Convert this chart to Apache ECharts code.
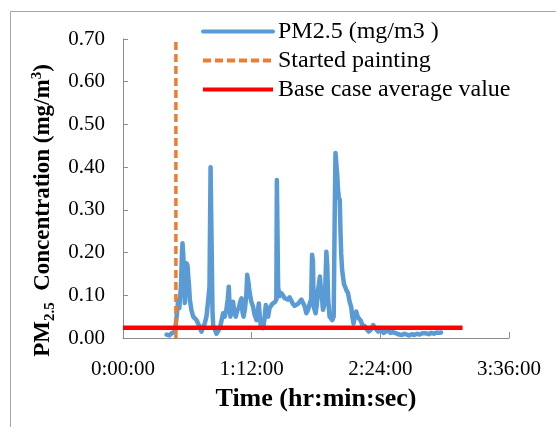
<!DOCTYPE html>
<html>
<head>
<meta charset="utf-8">
<script src="https://cdn.jsdelivr.net/npm/echarts@6/dist/echarts.min.js"></script>
<style>
html,body{margin:0;padding:0;background:#fff;}
#chart{width:556px;height:427px;}
</style>
</head>
<body>
<div id="chart"></div>
<script>
// Time in minutes since start
var pmTimes = [24.4, 26.0, 27.2, 29.1, 30.0, 30.9, 31.5, 32.4, 33.0, 33.3, 33.8, 34.1, 34.6, 35.1, 35.6, 36.1, 36.6, 37.0, 37.4, 37.8, 38.3, 39.3, 40.2, 41.1, 42.0, 43.0, 43.9, 44.8, 45.8, 46.7, 47.7, 48.4, 49.0, 49.6, 50.1, 50.5, 51.4, 52.3, 53.3, 54.2, 55.1, 56.0, 56.9, 57.8, 58.6, 59.2, 59.7, 60.1, 60.9, 61.6, 62.3, 63.1, 64.0, 64.8, 65.6, 66.3, 66.9, 67.5, 68.3, 69.0, 69.5, 70.2, 70.9, 71.8, 72.8, 73.6, 74.7, 75.4, 76.0, 76.6, 77.1, 77.8, 78.4, 79.2, 79.9, 80.5, 81.2, 82.0, 82.8, 83.6, 84.4, 85.2, 85.8, 86.1, 86.5, 86.8, 87.5, 88.6, 89.5, 90.5, 91.4, 92.3, 93.2, 94.2, 95.1, 96.0, 97.0, 97.9, 98.9, 99.8, 100.7, 101.6, 102.6, 103.5, 104.5, 105.3, 105.8, 106.3, 106.7, 107.8, 108.5, 109.1, 109.6, 110.2, 110.8, 111.4, 111.9, 112.5, 113.2, 113.8, 114.3, 114.8, 115.6, 116.4, 117.1, 117.9, 118.5, 118.9, 119.4, 119.9, 120.3, 120.8, 121.3, 121.7, 122.1, 122.6, 123.1, 123.7, 124.3, 125.0, 125.9, 126.8, 127.7, 128.3, 129.0, 129.8, 130.5, 131.3, 132.2, 133.1, 134.0, 135.2, 136.5, 137.5, 138.3, 139.2, 140.0, 140.8, 141.8, 142.8, 143.8, 144.8, 145.8, 147.3, 148.5, 149.7, 151.0, 152.9, 154.5, 156.0, 157.5, 158.5, 160.0, 161.5, 163.0, 164.5, 166.0, 167.5, 169.6, 171.0, 172.5, 174.0, 175.5, 177.0, 178.0];
var pm25 = [0.008, 0.006, 0.011, 0.015, 0.050, 0.089, 0.070, 0.120, 0.200, 0.222, 0.190, 0.160, 0.082, 0.130, 0.175, 0.170, 0.140, 0.120, 0.090, 0.089, 0.065, 0.050, 0.054, 0.042, 0.034, 0.030, 0.015, 0.025, 0.035, 0.050, 0.090, 0.120, 0.400, 0.400, 0.060, 0.027, 0.020, 0.010, 0.011, 0.023, 0.040, 0.058, 0.050, 0.065, 0.090, 0.120, 0.070, 0.050, 0.070, 0.085, 0.060, 0.050, 0.065, 0.070, 0.085, 0.093, 0.060, 0.050, 0.070, 0.100, 0.148, 0.130, 0.105, 0.085, 0.073, 0.055, 0.042, 0.060, 0.081, 0.050, 0.026, 0.040, 0.023, 0.045, 0.077, 0.060, 0.050, 0.070, 0.075, 0.080, 0.078, 0.085, 0.090, 0.370, 0.370, 0.120, 0.098, 0.105, 0.100, 0.093, 0.095, 0.090, 0.095, 0.097, 0.080, 0.075, 0.078, 0.080, 0.085, 0.090, 0.089, 0.075, 0.058, 0.065, 0.081, 0.090, 0.195, 0.180, 0.073, 0.058, 0.080, 0.112, 0.125, 0.144, 0.110, 0.090, 0.066, 0.075, 0.120, 0.202, 0.170, 0.090, 0.050, 0.047, 0.042, 0.050, 0.300, 0.433, 0.437, 0.380, 0.347, 0.330, 0.323, 0.250, 0.198, 0.160, 0.144, 0.125, 0.120, 0.112, 0.105, 0.085, 0.073, 0.050, 0.034, 0.050, 0.062, 0.050, 0.045, 0.040, 0.030, 0.028, 0.020, 0.015, 0.015, 0.022, 0.030, 0.030, 0.020, 0.015, 0.022, 0.018, 0.012, 0.015, 0.019, 0.012, 0.014, 0.011, 0.008, 0.007, 0.010, 0.007, 0.006, 0.009, 0.007, 0.010, 0.008, 0.011, 0.011, 0.009, 0.012, 0.010, 0.013, 0.012, 0.013];

var paintTimes = [29.6, 29.6];
var paintValues = [0, 0.70];

var baseTimes = [0, 190];
var baseValues = [0.024, 0.024];

var xTicks = [0, 72, 144, 216];   // minutes
var yTicks = [0, 0.1, 0.2, 0.3, 0.4, 0.5, 0.6, 0.7];

var seriesNames = ['PM2.5 (mg/m3 )', 'Started painting', 'Base case average value'];

function pairs(xs, ys) { return xs.map(function (x, i) { return [x, ys[i]]; }); }
function fmtTime(m) {
  var totalSec = Math.round(m * 60);
  var h = Math.floor(totalSec / 3600);
  var mm = Math.floor((totalSec % 3600) / 60);
  var ss = totalSec % 60;
  return h + ':' + (mm < 10 ? '0' : '') + mm + ':' + (ss < 10 ? '0' : '') + ss;
}

var serif = "'Liberation Serif', 'Times New Roman', serif";
var axisGray = '#8c8c8c';

var chart = echarts.init(document.getElementById('chart'), null, { renderer: 'canvas' });
chart.setOption({
  animation: false,
  backgroundColor: '#fff',
  graphic: [{
    type: 'rect',
    shape: { x: 10.5, y: 11.5, width: 600, height: 500 },
    style: { fill: 'none', stroke: '#a6a6a6', lineWidth: 1 },
    silent: true, z: -10
  }],
  grid: { left: 123, right: 47, top: 39, bottom: 89, containLabel: false },
  legend: {
    orient: 'vertical',
    left: 196, top: 12,
    itemWidth: 70, itemHeight: 14, itemGap: 0,
    itemStyle: { opacity: 0 },
    lineStyle: { width: 4 },
    textStyle: { fontFamily: serif, fontSize: 24, color: '#000', lineHeight: 29 },
    data: seriesNames
  },
  xAxis: {
    type: 'value',
    min: xTicks[0], max: xTicks[xTicks.length - 1], interval: 72,
    name: 'Time (hr:min:sec)',
    nameLocation: 'middle', nameGap: 48,
    nameTextStyle: { fontFamily: serif, fontSize: 26, fontWeight: 'bold', color: '#000' },
    axisLine: { show: true, lineStyle: { color: axisGray, width: 1 } },
    axisTick: { show: true, inside: true, length: 6, lineStyle: { color: axisGray } },
    axisLabel: { fontFamily: serif, fontSize: 21, color: '#000', margin: 21, formatter: fmtTime },
    splitLine: { show: false }
  },
  yAxis: {
    type: 'value',
    min: yTicks[0], max: yTicks[yTicks.length - 1], interval: 0.1,
    name: '{b|PM}{sub|2.5}{b|  Concentration (mg/m}{sup|3}{b|)}',
    nameLocation: 'middle', nameGap: 60,
    nameTextStyle: {
      color: '#000',
      padding: [0, 44, 0, 0],
      rich: {
        b: { fontFamily: serif, fontSize: 23, fontWeight: 'bold', color: '#000' },
        sub: { fontFamily: serif, fontSize: 15, fontWeight: 'bold', color: '#000', padding: [14, 0, 0, 0] },
        sup: { fontFamily: serif, fontSize: 15, fontWeight: 'bold', color: '#000', padding: [0, 0, 12, 0] }
      }
    },
    axisLine: { show: true, lineStyle: { color: axisGray, width: 1 } },
    axisTick: { show: true, inside: true, length: 5, lineStyle: { color: axisGray } },
    axisLabel: { fontFamily: serif, fontSize: 21, color: '#000', margin: 18,
      formatter: function (v) { return v.toFixed(2); } },
    splitLine: { show: false }
  },
  series: [
    {
      name: seriesNames[0], type: 'line', symbol: 'none', smooth: false,
      data: pairs(pmTimes, pm25),
      lineStyle: { color: '#5B9BD5', width: 4.5, join: 'round', cap: 'round' },
      itemStyle: { color: '#5B9BD5' }, z: 2
    },
    {
      name: seriesNames[1], type: 'line', symbol: 'none',
      data: pairs(paintTimes, paintValues),
      lineStyle: { color: '#ED7D31', width: 3.5, type: [8, 4] },
      itemStyle: { color: '#ED7D31' }, z: 3
    },
    {
      name: seriesNames[2], type: 'line', symbol: 'none',
      data: pairs(baseTimes, baseValues),
      lineStyle: { color: '#FF0000', width: 4.5 },
      itemStyle: { color: '#FF0000' }, z: 4
    }
  ]
});
</script>
</body>
</html>
